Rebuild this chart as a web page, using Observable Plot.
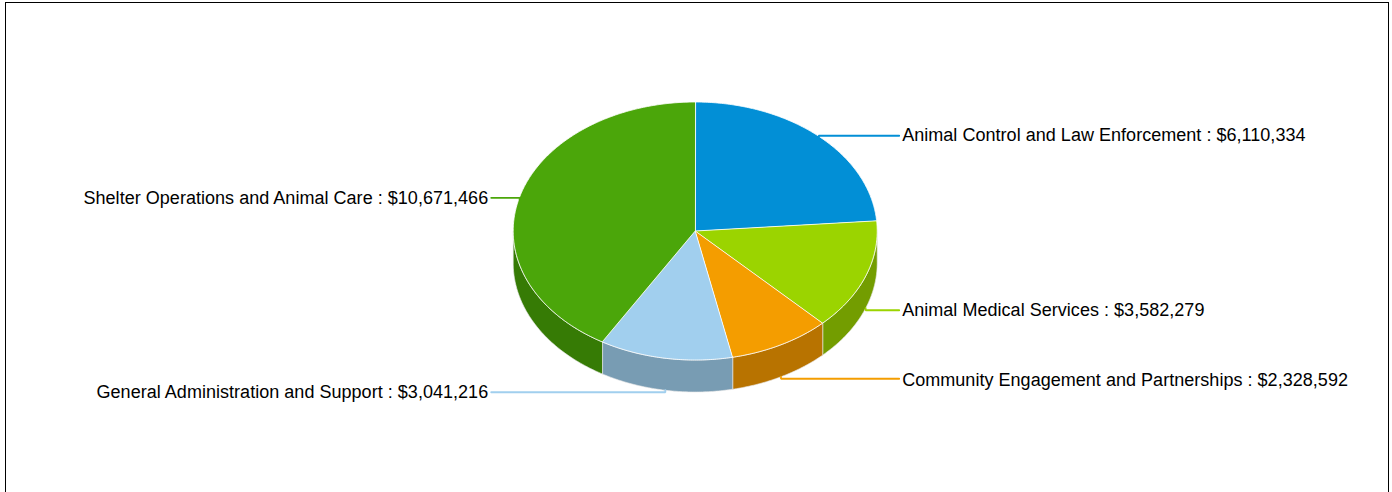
<!DOCTYPE html>
<html>
<head>
<meta charset="utf-8">
<script src="https://cdn.jsdelivr.net/npm/d3@7"></script>
<script src="https://cdn.jsdelivr.net/npm/@observablehq/plot@0.6"></script>
<style>
html,body{margin:0;padding:0;background:#fff;width:1392px;height:492px;overflow:hidden}
#frame{position:absolute;left:5px;top:2px;width:1384px;height:620px;box-sizing:border-box;border:1px solid #000}
#chart{position:absolute;left:0;top:0}
#chart svg{display:block;background:transparent}
#chart text{letter-spacing:.03px}
</style>
</head>
<body>
<div id="frame"></div>
<div id="chart"></div>
<script>
const categories = ["Animal Control and Law Enforcement","Animal Medical Services","Community Engagement and Partnerships","General Administration and Support","Shelter Operations and Animal Care"];
const amounts = [6110334,3582279,2328592,3041216,10671466];
const topColors = ["#028fd6","#9bd400","#f49d00","#a1cfee","#4ba60a"];
const sideColors = ["#026ba0","#739d00","#b87300","#789cb3","#367b05"];

const W = 1392, H = 492;
const cx = 694.7, cy = 230.5, rx = 182, ry = 129, depth = 32;
const leaderReach = 204, textReach = 207, leaderShift = 34;
const textNudge = [-0.7, 0, 1.2, 0, 0];

const px = a => cx + rx * Math.sin(a);
const py = a => cy - ry * Math.cos(a);
const arcs = d3.pie().sort(null)(amounts);
const steps = (a0, a1) => { const n = Math.max(2, Math.ceil((a1 - a0) * 90)); return d3.range(n + 1).map(i => a0 + (a1 - a0) * i / n); };

const tops = [], sides = [], leaders = [], labels = [];
arcs.forEach((s, i) => {
  tops.push({k: i, c: topColors[i], x: cx, y: cy});
  steps(s.startAngle, s.endAngle).forEach(a => tops.push({k: i, c: topColors[i], x: px(a), y: py(a)}));
  const a0 = Math.max(s.startAngle, Math.PI / 2), a1 = Math.min(s.endAngle, 3 * Math.PI / 2);
  if (a1 > a0) {
    const as = steps(a0, a1);
    as.forEach(a => sides.push({k: i, c: sideColors[i], x: px(a), y: py(a)}));
    as.slice().reverse().forEach(a => sides.push({k: i, c: sideColors[i], x: px(a), y: py(a) + depth}));
  }
  const mid = (s.startAngle + s.endAngle) / 2;
  const lower = Math.cos(mid) < 0;
  const right = Math.sin(mid) > 0;
  const ax = px(mid);
  const ly = py(mid) + (lower ? leaderShift : right ? -0.5 : 1);
  const dir = right ? 1 : -1;
  leaders.push({k: i, c: topColors[i], x: ax, y: ly + (lower ? -2 : 2)});
  leaders.push({k: i, c: topColors[i], x: ax, y: ly});
  leaders.push({k: i, c: topColors[i], x: cx + dir * leaderReach, y: ly});
  labels.push({x: cx + dir * textReach, y: ly + textNudge[i], t: `${categories[i]} : $${d3.format(",")(amounts[i])}`, right});
});

const textOpts = {x: "x", y: "y", text: "t", fontSize: 18, fontFamily: "Liberation Sans, Arial, sans-serif", fill: "#000", stroke: "none"};
const chart = Plot.plot({
  width: W, height: H,
  margin: 0,
  style: {background: "transparent", overflow: "visible"},
  x: {domain: [0, W], range: [0, W], axis: null},
  y: {domain: [0, H], range: [0, H], axis: null},
  marks: [
    Plot.line(sides, {x: "x", y: "y", z: "k", fill: "c", stroke: "#e8e8e8", strokeWidth: 0.8, strokeOpacity: 0.8, curve: "linear-closed"}),
    Plot.line(tops, {x: "x", y: "y", z: "k", fill: "c", stroke: "#fff", strokeWidth: 1, strokeOpacity: 0.8, curve: "linear-closed"}),
    Plot.line(leaders, {x: "x", y: "y", z: "k", stroke: "c", strokeWidth: 1.8, curve: "linear", strokeLinejoin: "miter"}),
    Plot.text(labels.filter(d => d.right), {...textOpts, textAnchor: "start"}),
    Plot.text(labels.filter(d => !d.right), {...textOpts, textAnchor: "end"})
  ]
});
document.getElementById("chart").appendChild(chart);
</script>
</body>
</html>
